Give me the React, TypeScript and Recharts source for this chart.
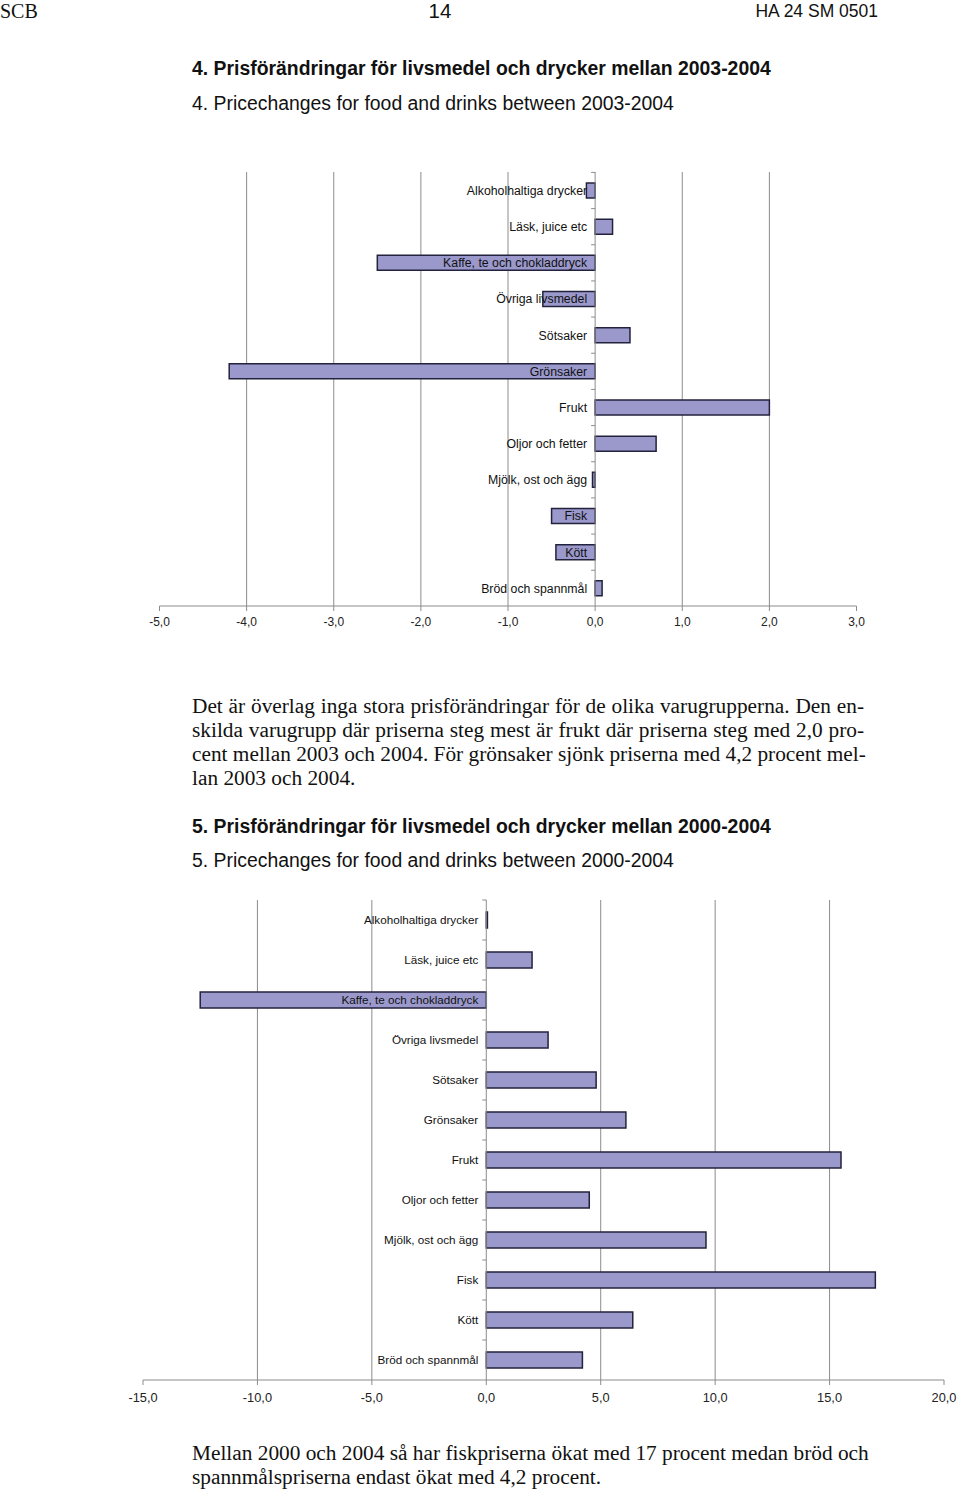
import React from 'react';
import {
  BarChart, Bar, XAxis, YAxis, CartesianGrid, ReferenceLine, LabelList,
} from 'recharts';

const categories = [
  'Alkoholhaltiga drycker',
  'Läsk, juice etc',
  'Kaffe, te och chokladdryck',
  'Övriga livsmedel',
  'Sötsaker',
  'Grönsaker',
  'Frukt',
  'Oljor och fetter',
  'Mjölk, ost och ägg',
  'Fisk',
  'Kött',
  'Bröd och spannmål',
];

// percent change 2003-2004
const change0304 = [-0.1, 0.2, -2.5, -0.6, 0.4, -4.2, 2.0, 0.7, -0.03, -0.5, -0.45, 0.08];
// percent change 2000-2004
const change0004 = [0.05, 2.0, -12.5, 2.7, 4.8, 6.1, 15.5, 4.5, 9.6, 17.0, 6.4, 4.2];

const ticks0304 = [-5, -4, -3, -2, -1, 0, 1, 2, 3];
const grid0304 = [-4, -3, -2, -1, 1, 2];
const ticks0004 = [-15, -10, -5, 0, 5, 10, 15, 20];
const grid0004 = [-10, -5, 5, 10, 15];

const SANS = '"Liberation Sans", Arial, Helvetica, sans-serif';
const SERIF = '"Liberation Serif", "Times New Roman", serif';
const GRID = '#8c8c8c';
const AXIS_H = 30;

const fmt = (v: number) => v.toFixed(1).replace('.', ',');

type Margin = { top: number; right: number; bottom: number; left: number };

type ChartProps = {
  values: number[];
  ticks: number[];
  grid: number[];
  width: number;
  height: number;
  margin: Margin;
  barSize: number;
  labelSize: number;
  tickFont: number;
  tickMargin: number;
};

const PriceBars: React.FC<ChartProps> = ({
  values, ticks, grid, width, height, margin, barSize, labelSize, tickFont, tickMargin,
}) => {
  const data = categories.map((name, i) => ({ name, value: values[i] }));
  const band = (height - margin.top - margin.bottom - AXIS_H) / categories.length;

  // category names sit just left of the zero line, drawn over the bars
  const renderLabel = (p: any) => {
    const vb = p.viewBox ?? p;
    const x = Number(vb.x);
    const w = Number(vb.width);
    const y = Number(vb.y);
    const h = Number(vb.height);
    const name = String(p.value);
    const v = values[categories.indexOf(name)];
    const zero = v < 0 ? Math.max(x, x + w) : Math.min(x, x + w);
    const cy = y + h / 2;
    return (
      <g>
        <line x1={zero - 4} x2={zero} y1={cy - band / 2} y2={cy - band / 2} stroke={GRID} />
        <text
          x={zero - 8}
          y={cy}
          dy="0.36em"
          textAnchor="end"
          fontSize={labelSize}
          fontFamily={SANS}
          fill="#111"
        >
          {name}
        </text>
      </g>
    );
  };

  return (
    <BarChart
      width={width}
      height={height}
      data={data}
      layout="vertical"
      margin={margin}
      barSize={barSize}
    >
      <CartesianGrid horizontal={false} verticalValues={grid} stroke={GRID} />
      <XAxis
        type="number"
        domain={[ticks[0], ticks[ticks.length - 1]]}
        ticks={ticks}
        interval={0}
        tickFormatter={fmt}
        stroke={GRID}
        tickSize={5}
        tickMargin={tickMargin}
        height={AXIS_H}
        tick={{ fontSize: tickFont, fill: '#222', fontFamily: SANS }}
        allowDataOverflow
      />
      <YAxis type="category" dataKey="name" hide />
      <ReferenceLine x={0} stroke={GRID} />
      <Bar dataKey="value" fill="#9b99cc" stroke="#23223c" strokeWidth={1.5} isAnimationActive={false}>
        <LabelList dataKey="name" content={renderLabel} />
      </Bar>
    </BarChart>
  );
};

const abs = (left: number, top: number): React.CSSProperties => ({
  position: 'absolute', left, top, whiteSpace: 'nowrap', color: '#111',
});

const Line: React.FC<{ text: string; last?: boolean }> = ({ text, last }) => (
  <div style={{ whiteSpace: 'nowrap', textAlign: last ? 'left' : 'justify', textAlignLast: last ? 'left' : 'justify' } as React.CSSProperties}>
    {text}
  </div>
);

const para1 = [
  'Det är överlag inga stora prisförändringar för de olika varugrupperna. Den en-',
  'skilda varugrupp där priserna steg mest är frukt där priserna steg med 2,0 pro-',
  'cent mellan 2003 och 2004. För grönsaker sjönk priserna med 4,2 procent mel-',
  'lan 2003 och 2004.',
];

const para2 = [
  'Mellan 2000 och 2004 så har fiskpriserna ökat med 17 procent medan bröd och',
  'spannmålspriserna endast ökat med 4,2 procent.',
];

const SERIF_STRETCH = 1.066;

const bodyText = (top: number, width: number): React.CSSProperties => ({
  position: 'absolute',
  left: 192,
  top,
  width,
  fontFamily: SERIF,
  fontSize: 20,
  lineHeight: '24px',
  color: '#111',
  transform: `scaleX(${SERIF_STRETCH})`,
  transformOrigin: 'left top',
});

export default function App() {
  return (
    <div style={{ position: 'absolute', left: 0, top: 0, width: 960, height: 1492, background: '#fff', overflow: 'hidden' }}>
      {/* page header */}
      <div style={{ ...abs(0, 0), fontFamily: SERIF, fontSize: 20, lineHeight: '22px' }}>SCB</div>
      <div style={{ ...abs(390, 0), width: 100, textAlign: 'center', fontFamily: SANS, fontSize: 20.5, lineHeight: '22px' }}>14</div>
      <div style={{ ...abs(0, 1), width: 878, textAlign: 'right', fontFamily: SANS, fontSize: 17.5, lineHeight: '20px' }}>HA 24 SM 0501</div>

      <div style={{ ...abs(192, 58), fontFamily: SANS, fontSize: 19.4, fontWeight: 'bold', lineHeight: '20px' }}>
        4. Prisförändringar för livsmedel och drycker mellan 2003-2004
      </div>
      <div style={{ ...abs(192, 93), fontFamily: SANS, fontSize: 19.4, lineHeight: '20px' }}>
        4. Pricechanges for food and drinks between 2003-2004
      </div>

      <div style={{ position: 'absolute', left: 100, top: 150 }}>
        <PriceBars
          values={change0304}
          ticks={ticks0304}
          grid={grid0304}
          width={800}
          height={500}
          margin={{ top: 22, right: 43.5, bottom: 14, left: 59.5 }}
          barSize={15}
          labelSize={12.3}
          tickFont={12}
          tickMargin={6}
        />
      </div>

      <div style={bodyText(694, 672 / SERIF_STRETCH)}>
        {para1.map((t, i) => <Line key={i} text={t} last={i === para1.length - 1} />)}
      </div>

      <div style={{ ...abs(192, 816), fontFamily: SANS, fontSize: 19.4, fontWeight: 'bold', lineHeight: '20px' }}>
        5. Prisförändringar för livsmedel och drycker mellan 2000-2004
      </div>
      <div style={{ ...abs(192, 850), fontFamily: SANS, fontSize: 19.4, lineHeight: '20px' }}>
        5. Pricechanges for food and drinks between 2000-2004
      </div>

      <div style={{ position: 'absolute', left: 80, top: 880 }}>
        <PriceBars
          values={change0004}
          ticks={ticks0004}
          grid={grid0004}
          width={880}
          height={560}
          margin={{ top: 20, right: 16, bottom: 30, left: 63 }}
          barSize={16}
          labelSize={11.7}
          tickFont={12.8}
          tickMargin={8}
        />
      </div>

      <div style={bodyText(1441, 700 / SERIF_STRETCH)}>
        {para2.map((t, i) => <Line key={i} text={t} last />)}
      </div>
    </div>
  );
}
